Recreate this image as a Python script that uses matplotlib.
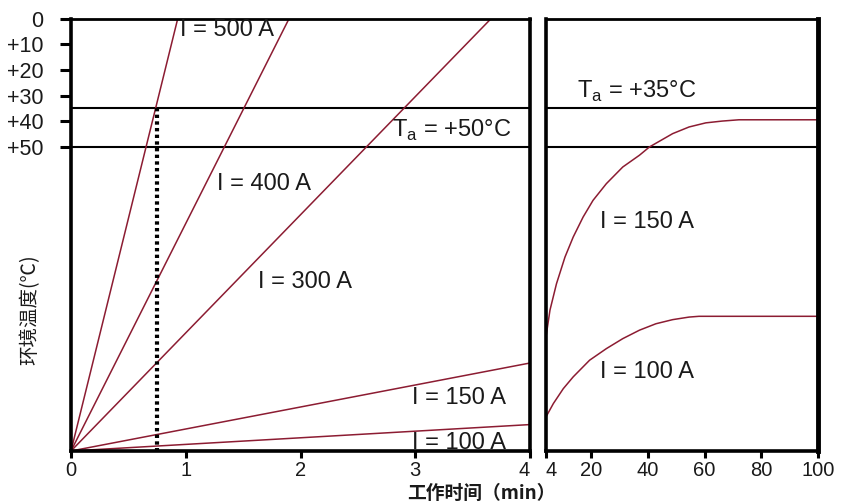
import numpy as np
import matplotlib
matplotlib.use('Agg')
import matplotlib.pyplot as plt

plt.rcParams['font.family'] = ['Liberation Sans', 'DejaVu Sans']
plt.rcParams['mathtext.fontset'] = 'custom'
plt.rcParams['mathtext.rm'] = 'Liberation Sans'

red = '#8c1c32'
txt = '#1a1a1a'

# y axis: temperature rise scale, 0 at top, bottom of plot ~168.5
y_bottom = 168.5
ta_lines = [35, 50]

# left panel: straight lines from origin (x=0, y=bottom) to end points
currents_left = ['500', '400', '300', '150', '100']
end_x = [0.93, 1.90, 3.66, 4.0, 4.0]
end_y = [0.0, 0.0, 0.0, 134.2, 158.2]

# dotted marker at I=500 crossing +35
dot_x = 0.75

# right panel curves
t150 = [4.0, 5.4, 7.7, 10.7, 13.6, 17.1, 20.6, 25.3, 31.1, 37.0, 40.5, 48.7, 54.5, 60.4, 66.2, 72.1, 100]
T150 = [124.0, 113.6, 103.3, 92.9, 85.1, 77.3, 70.8, 64.3, 57.8, 53.2, 50.0, 44.8, 42.2, 40.6, 39.9, 39.4, 39.4]
t100 = [4.0, 6.6, 10.1, 13.6, 19.4, 25.3, 31.1, 37.0, 42.8, 48.7, 54.5, 58.0, 100]
T100 = [155.2, 150.0, 144.2, 139.6, 133.1, 128.6, 124.7, 121.4, 118.9, 117.3, 116.3, 116.0, 116.0]

left_xticks = [0, 1, 2, 3, 4]
right_xticks = [4, 20, 40, 60, 80, 100]
yticks = [0, 10, 20, 30, 40, 50]
ylabels = ['0', '+10', '+20', '+30', '+40', '+50']

fig = plt.figure(figsize=(8.41, 5.04), dpi=100)
ax1 = fig.add_axes([71/841, 53/504, 459/841, 432.3/504])
ax2 = fig.add_axes([546/841, 53/504, 272/841, 432.3/504])

for ax in (ax1, ax2):
    ax.set_ylim(y_bottom, 0)
    for s in ['left', 'right', 'bottom']:
        ax.spines[s].set_linewidth(2.6)
    ax.spines['top'].set_linewidth(2.0)
    for yv in ta_lines:
        ax.axhline(yv, color='black', lw=1.5, zorder=1)
    ax.tick_params(axis='x', direction='out', length=5, width=2.2, pad=2,
                   labelsize=14.5, labelcolor=txt)

# left panel
ax1.set_xlim(0, 4)
for xe, ye in zip(end_x, end_y):
    ax1.plot([0, xe], [y_bottom, ye], color=red, lw=1.1, zorder=2)
ax1.plot([dot_x, dot_x], [ta_lines[0], y_bottom], color='black', lw=3.0,
         linestyle=(0, (0.8, 0.8)), zorder=3)
ax1.set_xticks(left_xticks)
ax1.set_xticklabels([str(v) for v in left_xticks])
ax1.get_xticklabels()[-1].set_ha('right')
ax1.set_yticks(yticks)
ax1.set_yticklabels(ylabels)
ax1.tick_params(axis='y', direction='out', length=8, width=2.2, pad=12,
                labelsize=15.5, labelcolor=txt)

fs = 17
ax1.text(0.95, 4.4, 'I = 500 A', fontsize=fs, color=txt, va='center', ha='left')
ax1.text(1.27, 64.4, 'I = 400 A', fontsize=fs, color=txt, va='center', ha='left')
ax1.text(1.63, 102.6, 'I = 300 A', fontsize=fs, color=txt, va='center', ha='left')
ax1.text(2.97, 147.7, 'I = 150 A', fontsize=fs, color=txt, va='center', ha='left')
ax1.text(2.97, 165.5, 'I = 100 A', fontsize=fs, color=txt, va='center', ha='left')
ax1.text(2.8, 43.5, r'T$_\mathregular{a}$ = +50°C', fontsize=fs, color=txt,
         va='center', ha='left')

# right panel
ax2.set_xlim(4, 100)
ax2.plot(t150, T150, color=red, lw=1.1, zorder=2)
ax2.plot(t100, T100, color=red, lw=1.1, zorder=2)
ax2.set_xticks(right_xticks)
ax2.set_xticklabels([str(v) for v in right_xticks])
ax2.get_xticklabels()[0].set_ha('left')
ax2.set_yticks([])
ax2.spines['right'].set_linewidth(3.5)

ax2.text(14.9, 28.5, r'T$_\mathregular{a}$ = +35°C', fontsize=fs, color=txt,
         va='center', ha='left')
ax2.text(22.9, 79.2, 'I = 150 A', fontsize=fs, color=txt, va='center', ha='left')
ax2.text(22.9, 137.7, 'I = 100 A', fontsize=fs, color=txt, va='center', ha='left')

fig.text(481/841, 1.5/504, '工作时间（min）', fontsize=13.5, fontweight='bold',
         family=['Noto Sans CJK SC', 'DejaVu Sans'], ha='center', va='bottom', color=txt)
fig.text(30/841, 1 - 310/504, '环境温度(℃)', fontsize=14, rotation=90,
         family=['Noto Sans CJK SC', 'DejaVu Sans'], ha='center', va='center', color=txt)

plt.savefig('out.png', dpi=100)
